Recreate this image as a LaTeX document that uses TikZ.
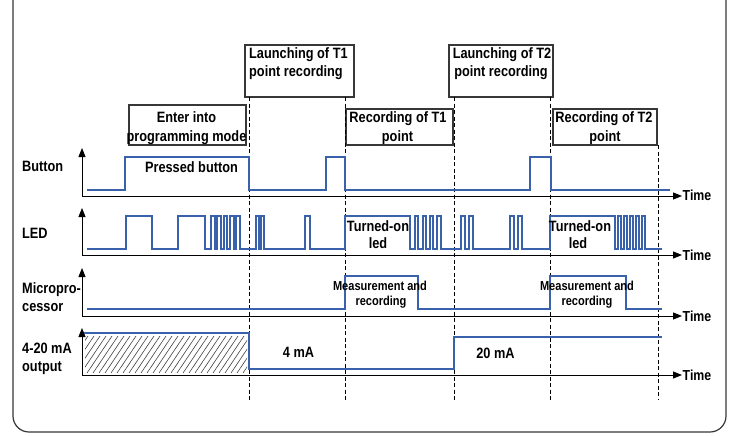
\documentclass[tikz,border=0pt]{standalone}
\usepackage{fontspec}
\setmainfont{Liberation Sans}[FakeStretch=0.85]
\usetikzlibrary{arrows.meta}
\definecolor{sigblue}{RGB}{58,98,172}
\definecolor{boxgray}{RGB}{55,55,55}
\begin{document}
\begin{tikzpicture}[x=1pt,y=-1pt,
  sig/.style={draw=sigblue,line width=2.3pt,line join=miter,line cap=butt},
  axisarrow/.style={draw=black,line width=0.9pt,-{Triangle[length=9pt,width=7pt]}},
  boxframe/.style={draw=boxgray,line width=1.1pt},
  vline/.style={draw=black,line width=0.9pt,dash pattern=on 4pt off 2.5pt},
  big/.style={font=\fontsize{15}{18}\selectfont\bfseries,inner sep=0pt,anchor=base},
  bigw/.style={big,anchor=base west},
  small/.style={font=\fontsize{13}{15}\selectfont\bfseries,inner sep=0pt,anchor=base},
  timelbl/.style={font=\fontsize{14.5}{16}\selectfont\bfseries,inner sep=0pt,anchor=base west}]
\useasboundingbox (0,0) rectangle (733,436);
\begin{scope}
\clip (0,0) rectangle (733,436);
\draw[boxgray,line width=1.2pt,rounded corners=16pt] (13,-30) rectangle (726,432);
\end{scope}

% boxes
\draw[boxframe] (129,105) rectangle (246,145);
\draw[boxframe] (245,45) rectangle (354,97);
\draw[boxframe] (346,109) rectangle (453,145);
\draw[boxframe] (449,45) rectangle (553,97);
\draw[boxframe] (553,109) rectangle (657,145);

\node[big] (e1) at (186.5,122) {Enter into};
\node[big] (e2) at (186.5,141) {programming mode};
\node[bigw] (l1a) at (249,58.3) {Launching of T1};
\node[bigw] (l1b) at (249,76.5) {point recording};
\node[big] (r1a) at (398,122) {Recording of T1};
\node[big] (r1b) at (397.5,141) {point};
\node[big] (l2a) at (502,58.3) {Launching of T2};
\node[big] (l2b) at (501,76.5) {point recording};
\node[big] (r2a) at (604,122) {Recording of T2};
\node[big] (r2b) at (605,141) {point};

% dashed verticals
\coordinate (d1t) at (249,97);  \coordinate (d1b) at (249,400);
\coordinate (d2t) at (345,97);  \coordinate (d2b) at (345,400);
\coordinate (d3t) at (454,97);  \coordinate (d3b) at (454,400);
\coordinate (d4t) at (550,97);  \coordinate (d4b) at (550,400);
\coordinate (d5t) at (658,145); \coordinate (d5b) at (658,400);
\foreach \i in {1,...,5} {\draw[vline] (d\i t) -- (d\i b);}

% row labels
\node[bigw] (lb1) at (22,171) {Button};
\node[bigw] (lb2) at (22,238) {LED};
\node[bigw] (lb3) at (22,293) {Micropro-};
\node[bigw] (lb4) at (22,311) {cessor};
\node[bigw] (lb5) at (22,353.5) {4-20 mA};
\node[bigw] (lb6) at (22,371) {output};

% axes
\foreach \b/\t/\n in {196/148/1,255/208/2,316/268/3,375/328/4} {
  \coordinate (o\n) at (82,\b);
  \coordinate (v\n) at (82,\t);
  \coordinate (h\n) at (682,\b);
  \draw[axisarrow] (o\n) -- (v\n);
  \draw[axisarrow] (o\n) -- (h\n);
}
\node[timelbl] (t1) at (682.5,200) {Time};
\node[timelbl] (t2) at (682.5,260) {Time};
\node[timelbl] (t3) at (682.5,321) {Time};
\node[timelbl] (t4) at (682.5,380.5) {Time};

% hatch
\begin{scope}
\clip (85,336) rectangle (247,373);
\foreach \x in {40,46,...,280} {\draw[black!75,line width=0.6pt] (\x-25,373) -- (\x,336);}
\end{scope}

% button signal
\draw[sig] (87,190) -| (125,157) -| (249,190) -| (326,157) -| (345,190) -| (530,157) -| (551,190) -- (670,190);
\node[big] (pb) at (191.5,172) {Pressed button};

% LED signal
\def\lo{249}\def\hi{216}
\draw[sig] (87,\lo)
  \foreach \a/\b in {126/152,178/205,211/215,217/221,224/227,230/234,236/240,256/259,261/264,305/310,345/410,415/418,423/426,430/433,437/441,461/465,469/473,510/514,518/522,550/615,618/621,624/627,630/633,636/639,642/645}
  { -- (\a,\lo) -- (\a,\hi) -- (\b,\hi) -- (\b,\lo) } -- (662,\lo);
\node[big] (to1) at (378,231) {Turned-on};
\node[big] (ld1) at (378,248) {led};
\node[big] (to2) at (580,231) {Turned-on};
\node[big] (ld2) at (578,248) {led};

% microprocessor signal
\draw[sig] (87,309) -| (345,276) -| (418,309) -| (550,276) -| (626,309) -- (662,309);
\node[small] (m1a) at (380,290.5) {Measurement and};
\node[small] (m1b) at (381,305.5) {recording};
\node[small] (m2a) at (587,290.5) {Measurement and};
\node[small] (m2b) at (587,305.5) {recording};

% 4-20 mA signal
\draw[sig] (84,333) -- (249,333) -- (249,369) -- (454,369) -- (454,337) -- (662,337);
\node[big] (ma4) at (298.5,357) {4 mA};
\node[big] (ma20) at (495.5,358) {20 mA};
\end{tikzpicture}
\end{document}
